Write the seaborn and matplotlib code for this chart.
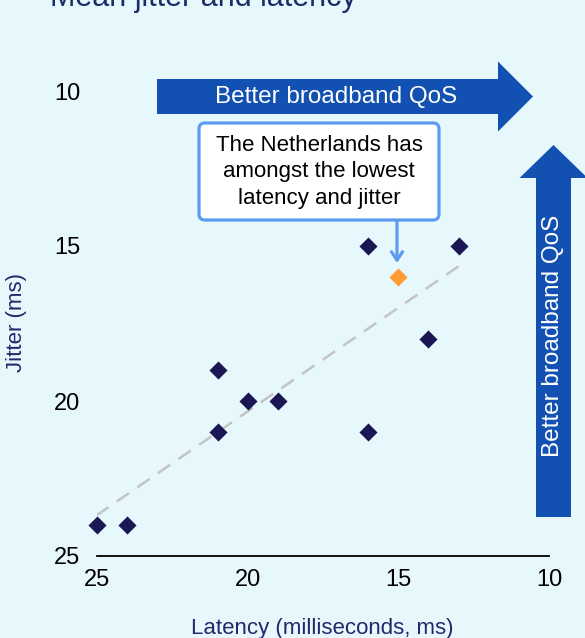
"""
Mean jitter vs latency scatter, with broadband QoS arrows and NL callout.
Saves out.png
"""

import pandas as pd
import matplotlib.pyplot as plt
import seaborn as sns
from matplotlib.patches import FancyArrow, FancyBboxPatch

# -------------------------------
# Data
# -------------------------------
countries = ["A", "B", "Netherlands", "C", "D", "E", "F", "G", "H", "I", "J"]
latency = [16, 13, 15, 14, 21, 20, 19, 21, 16, 25, 24]
jitter = [15, 15, 16, 18, 19, 20, 20, 21, 21, 24, 24]
highlight = "Netherlands"

x_ticks = [25, 20, 15, 10]
y_ticks = [10, 15, 20, 25]

BG = "#e6f8fc"
NAVY = "#1b1654"
ORANGE = "#ff9b33"
ARROW_BLUE = "#1251b1"
CALLOUT_BLUE = "#5c9cf0"
TEXT_NAVY = "#26266b"

W, H = 585, 638


def main():
    df = pd.DataFrame({"country": countries, "latency": latency, "jitter": jitter})
    df["is_nl"] = df["country"] == highlight

    sns.set_style("white")
    plt.rcParams["font.family"] = ["Liberation Sans", "DejaVu Sans"]

    fig = plt.figure(figsize=(W / 100, H / 100), dpi=100, facecolor=BG)
    ax = fig.add_axes([97 / W, 1 - 556 / H, (549 - 97) / W, (556 - 91) / H])
    ax.set_facecolor("none")

    # trend line over all points
    sns.regplot(
        data=df, x="latency", y="jitter", ax=ax, scatter=False, ci=None,
        line_kws=dict(color="#c4c4c4", lw=1.8, ls=(0, (6, 4))),
    )

    sns.scatterplot(
        data=df[~df["is_nl"]], x="latency", y="jitter", ax=ax,
        marker="D", s=85, color=NAVY, linewidth=0, zorder=3, clip_on=False,
    )
    sns.scatterplot(
        data=df[df["is_nl"]], x="latency", y="jitter", ax=ax,
        marker="D", s=85, color=ORANGE, linewidth=0, zorder=3, clip_on=False,
    )

    ax.set_xlim(25, 10)
    ax.set_ylim(25, 10)
    ax.set_xticks(x_ticks)
    ax.set_yticks(y_ticks)
    ax.tick_params(axis="both", length=0, labelsize=17, colors="black")
    ax.tick_params(axis="x", pad=9)
    ax.tick_params(axis="y", pad=12)
    ax.set_xlabel("")
    ax.set_ylabel("")
    for side in ["top", "right", "left"]:
        ax.spines[side].set_visible(False)
    ax.spines["bottom"].set_color("black")
    ax.spines["bottom"].set_linewidth(1.3)

    # titles and axis labels
    fig.text(50 / W, 1 - 6 / H, "Mean jitter and latency", fontsize=22,
             color="#1d2b66", ha="left", va="baseline")
    fig.text(17 / W, 1 - 323 / H, "Jitter (ms)", fontsize=16, color=TEXT_NAVY,
             rotation=90, ha="center", va="center")
    fig.text(322 / W, 1 - 634 / H, "Latency (milliseconds, ms)", fontsize=16,
             color=TEXT_NAVY, ha="center", va="baseline")

    # -------------------------------
    # Overlay in pixel coordinates
    # -------------------------------
    ov = fig.add_axes([0, 0, 1, 1], zorder=5)
    ov.set_xlim(0, W)
    ov.set_ylim(H, 0)
    ov.axis("off")
    ov.patch.set_alpha(0)

    ov.add_patch(FancyArrow(157, 96.5, 533 - 157, 0, width=35, head_width=70,
                            head_length=35, length_includes_head=True,
                            color=ARROW_BLUE, lw=0))
    ov.text(336, 97, "Better broadband QoS", color="white", fontsize=17.5,
            ha="center", va="center")

    ov.add_patch(FancyArrow(553.5, 517, 0, 145 - 517, width=35, head_width=68,
                            head_length=33, length_includes_head=True,
                            color=ARROW_BLUE, lw=0))
    ov.text(553.5, 336, "Better broadband QoS", color="white", fontsize=17.5,
            rotation=90, ha="center", va="center")

    ov.add_patch(FancyBboxPatch((199, 123), 240, 97,
                                boxstyle="round,pad=0,rounding_size=6",
                                facecolor="white", edgecolor=CALLOUT_BLUE, lw=2.3))
    ov.text(319, 172, "The Netherlands has\namongst the lowest\nlatency and jitter",
            fontsize=16, color="black", ha="center", va="center", linespacing=1.35)
    ov.annotate("", xy=(397, 263), xytext=(397, 221),
                arrowprops=dict(arrowstyle="->,head_length=0.6,head_width=0.4",
                                color=CALLOUT_BLUE, lw=2.3,
                                shrinkA=0, shrinkB=0))

    fig.savefig("out.png", dpi=100, facecolor=BG)


if __name__ == "__main__":
    main()
